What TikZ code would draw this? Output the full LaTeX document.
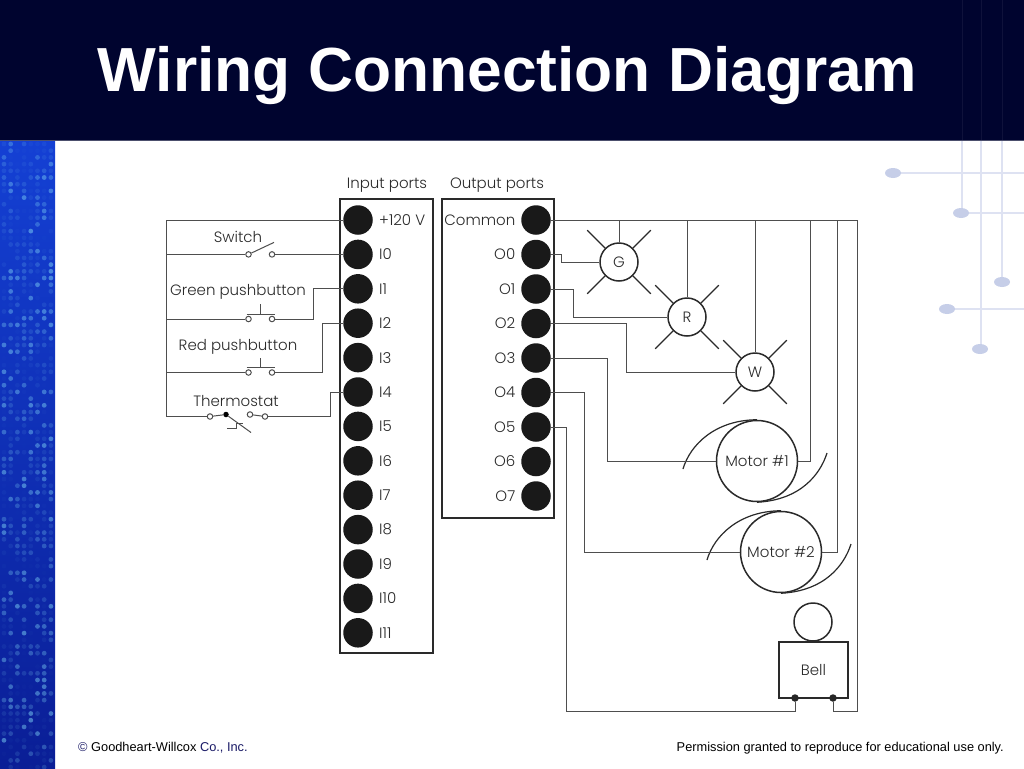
\documentclass[tikz,border=0pt]{standalone}
\usepackage{fontspec}
\usepackage{xcolor}
\usetikzlibrary{calc}
\setmainfont{Liberation Sans}
\newfontfamily\diagfont{Poppins Light}
\definecolor{header}{HTML}{00042F}
\definecolor{ink}{HTML}{2A2A2A}
\definecolor{wirec}{HTML}{4E4E4E}
\definecolor{deco}{HTML}{DEE2F2}
\definecolor{decodot}{HTML}{C6CEE8}
\definecolor{navytxt}{HTML}{1A1A66}
\definecolor{striptop}{HTML}{1440D4}
\definecolor{stripbot}{HTML}{0A1E96}
\tikzset{
  wire/.style={draw=wirec, line width=1pt},
  boxline/.style={draw=ink, line width=1.5pt},
  port/.style={circle, fill=black!90, draw=none, inner sep=0pt, minimum size=29.5pt},
  contact/.style={circle, draw=wirec, fill=white, line width=1pt, inner sep=0pt, minimum size=5.5pt},
  blackdot/.style={circle, fill=black!85, inner sep=0pt, minimum size=7.5pt},
  lamp/.style={circle, boxline, fill=white, inner sep=0pt, minimum size=38pt},
  motor/.style={circle, boxline, fill=white, inner sep=0pt, minimum size=81pt},
  rayline/.style={draw=ink, line width=1.2pt},
  lab/.style={text=ink, font=\diagfont\fontsize{15}{15}\selectfont, inner sep=0pt},
  foot/.style={font=\fontsize{12.8}{12.8}\selectfont, text=black, inner sep=0pt},
}
\begin{document}
\begin{tikzpicture}[x=1pt,y=-1pt]
  \useasboundingbox (0,0) rectangle (1024,768);
  \fill[white] (0,0) rectangle (1024,768);
  % side strip
  \shade[top color=striptop, bottom color=stripbot] (0,140) rectangle (55,768);
  \pgfmathsetseed{41}
  \foreach \i in {0,...,7}
    \foreach \j in {0,...,93} {
      \pgfmathsetmacro{\op}{rnd^3*0.5}
      \fill[cyan!50!white, opacity=\op] ({4+6.7*\i},{144+6.7*\j}) circle (2.4);
    }
  % decoration top right
  \foreach \x/\y in {962/213,981/349,1002/282}
    \draw[deco, line width=1.2pt] (\x,140) -- (\x,\y);
  \foreach \x/\y in {893/173,961/213,947/309}
    \draw[deco, line width=1.2pt] (\x,\y) -- (1024,\y);
  \foreach \x/\y in {893/173,961/213,1002/282,947/309,980/349}
    \fill[decodot] (\x,\y) ellipse (8 and 5);
  % header
  \fill[header] (0,0) rectangle (1024,140);
  \draw[header!70!white, line width=0.8pt] (0,140) -- (1024,140);
  \foreach \x in {962,981,1002}
    \draw[white, opacity=0.06, line width=1pt] (\x,0) -- (\x,140);
  \node[text=white, font=\bfseries\fontsize{62.3}{62.3}\selectfont, inner sep=0pt] (title) at (507.5,75.5) {Wiring Connection Diagram};
  \node[foot, anchor=base west] (copyr) at (78,751) {\textcolor{navytxt}{©} Goodheart-Willcox \textcolor{navytxt}{Co., Inc.}};
  \node[foot, anchor=base east] (perm) at (1004,751) {Permission granted to reproduce for educational use only.};

  % port boxes
  \node[boxline, inner sep=0pt, minimum width=93pt, minimum height=454pt] (inbox) at (386.5,426) {};
  \node[boxline, inner sep=0pt, minimum width=112pt, minimum height=319pt] (outbox) at (498,358.5) {};
  \node[lab] (inhead) at (387,185.5) {Input ports};
  \node[lab] (outhead) at (497,185.5) {Output ports};
  \foreach \n/\t [count=\k from 0] in {pwr/+120 V,i0/I0,i1/I1,i2/I2,i3/I3,i4/I4,i5/I5,i6/I6,i7/I7,i8/I8,i9/I9,i10/I10,i11/I11} {
    \node[port] (\n) at (358,{220+34.4*\k}) {};
    \node[lab, anchor=west] (\n lab) at (379,{220+34.4*\k}) {\t};
  }
  \foreach \n/\t [count=\k from 0] in {com/Common,o0/O0,o1/O1,o2/O2,o3/O3,o4/O4,o5/O5,o6/O6,o7/O7} {
    \node[port] (\n) at (536,{220+34.5*\k}) {};
    \node[lab, anchor=east] (\n lab) at (515.5,{220+34.5*\k}) {\t};
  }

  % inputs
  \coordinate (busb) at (166,416.5);
  \node[lab] (swlab) at (238,237) {Switch};
  \node[lab] (gplab) at (238,292) {Green pushbutton};
  \node[lab] (rplab) at (238,346.5) {Red pushbutton};
  \node[lab] (thlab) at (236,401) {Thermostat};
  \node[contact] (swa) at (248.5,254.4) {};
  \node[contact] (swb) at (272,254.4) {};
  \node[contact] (gpa) at (248.5,319) {};
  \node[contact] (gpb) at (272,319) {};
  \node[contact] (rpa) at (248.5,372.5) {};
  \node[contact] (rpb) at (272,372.5) {};
  \node[contact] (tha) at (210,416.5) {};
  \node[circle, fill=black, inner sep=0pt, minimum size=5.5pt] (thc) at (226,414.5) {};
  \node[contact] (thd) at (250,414.5) {};
  \node[contact] (the) at (265,416.5) {};
  \draw[wire] (pwr) -| (busb) -- (tha);
  \draw[wire] (tha) -- (thc);
  \draw[wire] (swa) -- (swa -| busb);
  \draw[wire] (gpa) -- (gpa -| busb);
  \draw[wire] (rpa) -- (rpa -| busb);
  \draw[wire] (swb) -- (i0);
  \draw[wire] (gpb) -- ++(41,0) |- (i1);
  \draw[wire] (rpb) -- ++(50,0) |- (i2);
  \draw[wire] (the) -- ++(65,0) |- (i4);
  \draw[wire] (thd) -- (the);
  % moving parts
  \draw[wire] (swa) -- ++(25.5,-12);
  \draw[wire] ([yshift=5pt]gpa.center) ++(-2,0) -- ++(28,0) ++(-14,0) -- ++(0,-10);
  \draw[wire] ([yshift=5pt]rpa.center) ++(-2,0) -- ++(28,0) ++(-14,0) -- ++(0,-10);
  \draw[wire] (thc) -- ++(25,18);
  \draw[wire] (227,428) -- (236,428) -- (236,423) -- (243,423);

  % lamps
  \node[lamp] (lampg) at (619,262) {};
  \node[lamp] (lampr) at (687,317) {};
  \node[lamp] (lampw) at (755,372) {};
  \node[lab] (lampglab) at (lampg) {G};
  \node[lab] (lamprlab) at (lampr) {R};
  \node[lab] (lampwlab) at (lampw) {W};
  \foreach \m in {lampg,lampr,lampw}
    \foreach \a in {45,135,225,315}
      \draw[rayline] (\m) -- +(\a:45);

  % motors
  \node[motor] (motora) at (757,461) {};
  \node[motor] (motorb) at (781,552) {};
  \node[lab] (motoralab) at (motora) {Motor \#1};
  \node[lab] (motorblab) at (motorb) {Motor \#2};
  \foreach \m in {motora,motorb} {
    \draw[rayline] (\m.north) .. controls ($(\m)+(-42,-41)$) and ($(\m)+(-67,-16)$) .. ($(\m)+(-74,8)$);
    \draw[rayline] (\m.south) .. controls ($(\m)+(43,39)$) and ($(\m)+(63,14)$) .. ($(\m)+(70,-8)$);
  }

  % bell
  \node[circle, boxline, fill=white, inner sep=0pt, minimum size=38pt] (horn) at (813,622) {};
  \node[boxline, inner sep=0pt, minimum width=69pt, minimum height=56pt] (bell) at (813.5,670) {};
  \node[lab] (belllab) at (bell) {Bell};
  \node[blackdot] (bella) at (795,698) {};
  \node[blackdot] (bellb) at (833,698) {};

  % outputs
  \coordinate (railend) at (857,220);
  \coordinate (tapa) at (810.5,220);
  \coordinate (tapb) at (837,220);
  \draw[wire] (com) -- (railend);
  \draw[wire] (lampg) -- (lampg |- railend);
  \draw[wire] (lampr) -- (lampr |- railend);
  \draw[wire] (lampw) -- (lampw |- railend);
  \draw[wire] (motora) -| (tapa);
  \draw[wire] (motorb) -| (tapb);
  \draw[wire] (bellb) -- ++(0,13) -| (railend);
  \draw[wire] (o0) -- ++(25,0) |- (lampg);
  \draw[wire] (o1) -- ++(37,0) |- (lampr);
  \draw[wire] (o2) -- ++(90,0) |- (lampw);
  \draw[wire] (o3) -- ++(71,0) |- (motora);
  \draw[wire] (o4) -- ++(48,0) |- (motorb);
  \draw[wire] (o5) -- ++(30,0) |- ($(bella)+(0,13)$) -- (bella);
\end{tikzpicture}
\end{document}
